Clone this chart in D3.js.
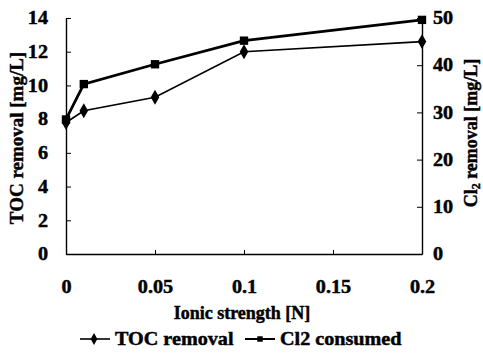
<!DOCTYPE html>
<html>
<head>
<meta charset="utf-8">
<script src="https://cdn.jsdelivr.net/npm/d3@7"></script>
<style>
  body { margin: 0; background: #fff; }
  text { font-family: "Liberation Serif", "Times New Roman", serif; font-weight: bold; fill: #000;
         stroke: #000; stroke-width: 0.45px; }
</style>
</head>
<body>
<div id="chart"></div>
<script>
// data
const ionic = [0, 0.01, 0.05, 0.1, 0.2];
const tocRemoval = [7.8, 8.5, 9.3, 12.0, 12.6];   // left axis, mg/L
const cl2Consumed = [28.5, 36.0, 40.2, 45.2, 49.6]; // right axis, mg/L
const xTicks = [0, 0.05, 0.1, 0.15, 0.2];
const yLeftTicks = [0, 2, 4, 6, 8, 10, 12, 14];
const yRightTicks = [0, 10, 20, 30, 40, 50];

const W = 483, H = 353;
const plotLeft = 66, plotRight = 422, plotTop = 18, plotBottom = 254;

const svg = d3.select("#chart").append("svg")
    .attr("width", W)
    .attr("height", H);

const x = d3.scaleLinear().domain([0, 0.2]).range([plotLeft, plotRight]);
const yL = d3.scaleLinear().domain([0, 14]).range([plotBottom, plotTop]);
const yR = d3.scaleLinear().domain([0, 50]).range([plotBottom, plotTop]);

// the scanned lettering is a bit wider than Liberation Serif, so stretch it sideways
function stretch(sel, k) {
    sel.each(function() {
        const t = d3.select(this);
        const x0 = +t.attr("x") || 0;
        t.attr("x", 0).attr("transform", `translate(${x0},0) scale(${k},1)`);
    });
}

// axes, ticks pointing into the plot
const axisStyle = g => {
    g.select(".domain").attr("stroke", "#000").attr("stroke-width", 1.4);
    g.selectAll(".tick line").attr("stroke", "#000").attr("stroke-width", 1);
    g.selectAll(".tick text").style("font-size", "18px").call(stretch, 1.12);
};

svg.append("g")
    .attr("transform", `translate(0,${plotBottom})`)
    .call(d3.axisBottom(x).tickValues(xTicks).tickSizeInner(-4).tickSizeOuter(0)
        .tickPadding(26).tickFormat(d => d3.format("")(d)))
    .call(axisStyle);

svg.append("g")
    .attr("transform", `translate(${plotLeft},0)`)
    .call(d3.axisLeft(yL).tickValues(yLeftTicks).tickSizeInner(-5).tickSizeOuter(0).tickPadding(18))
    .call(axisStyle);

svg.append("g")
    .attr("transform", `translate(${plotRight},0)`)
    .call(d3.axisRight(yR).tickValues(yRightTicks).tickSizeInner(-5).tickSizeOuter(0).tickPadding(11))
    .call(axisStyle);

// axis titles
svg.append("text")
    .attr("x", 242)
    .attr("y", 319)
    .attr("text-anchor", "middle")
    .style("font-size", "18px")
    .text("Ionic strength [N]");

svg.append("text")
    .attr("transform", "translate(23,138) rotate(-90)")
    .attr("text-anchor", "middle")
    .style("font-size", "19px")
    .text("TOC removal [mg/L]");

const rt = svg.append("text")
    .attr("transform", "translate(477,133) rotate(-90)")
    .attr("text-anchor", "middle")
    .style("font-size", "18px");
rt.append("tspan").text("Cl");
rt.append("tspan").attr("dy", 3).style("font-size", "12px").text("2");
rt.append("tspan").attr("dy", -3).text(" removal [mg/L]");

// lines
const tocData = ionic.map((d, i) => [d, tocRemoval[i]]);
const clData = ionic.map((d, i) => [d, cl2Consumed[i]]);

svg.append("path")
    .datum(tocData)
    .attr("fill", "none")
    .attr("stroke", "#000")
    .attr("stroke-width", 1.7)
    .attr("d", d3.line().x(d => x(d[0])).y(d => yL(d[1])));

svg.append("path")
    .datum(clData)
    .attr("fill", "none")
    .attr("stroke", "#000")
    .attr("stroke-width", 2.8)
    .attr("d", d3.line().x(d => x(d[0])).y(d => yR(d[1])));

const diamond = d3.symbol().type(d3.symbolDiamond).size(64);
const square = d3.symbol().type(d3.symbolSquare).size(70);

svg.selectAll(".toc")
    .data(tocData)
    .enter()
    .append("path")
    .attr("class", "toc")
    .attr("transform", d => `translate(${x(d[0])},${yL(d[1])})`)
    .attr("d", diamond)
    .attr("fill", "#000");

svg.selectAll(".cl")
    .data(clData)
    .enter()
    .append("path")
    .attr("class", "cl")
    .attr("transform", d => `translate(${x(d[0])},${yR(d[1])})`)
    .attr("d", square)
    .attr("fill", "#000");

// legend
const legend = svg.append("g").attr("transform", "translate(0,339)");

legend.append("line").attr("x1", 80).attr("x2", 110).attr("y1", 0).attr("y2", 0)
    .attr("stroke", "#000").attr("stroke-width", 1.6);
legend.append("path").attr("transform", "translate(94,0)")
    .attr("d", d3.symbol().type(d3.symbolDiamond).size(40)).attr("fill", "#000");
legend.append("text").attr("x", 115).attr("y", 6).style("font-size", "18px").text("TOC removal")
    .call(stretch, 1.12);

legend.append("line").attr("x1", 245).attr("x2", 275).attr("y1", 0).attr("y2", 0)
    .attr("stroke", "#000").attr("stroke-width", 2);
legend.append("path").attr("transform", "translate(260,0)")
    .attr("d", d3.symbol().type(d3.symbolSquare).size(30)).attr("fill", "#000");
legend.append("text").attr("x", 280).attr("y", 6).style("font-size", "18px").text("Cl2 consumed")
    .call(stretch, 1.12);
</script>
</body>
</html>
